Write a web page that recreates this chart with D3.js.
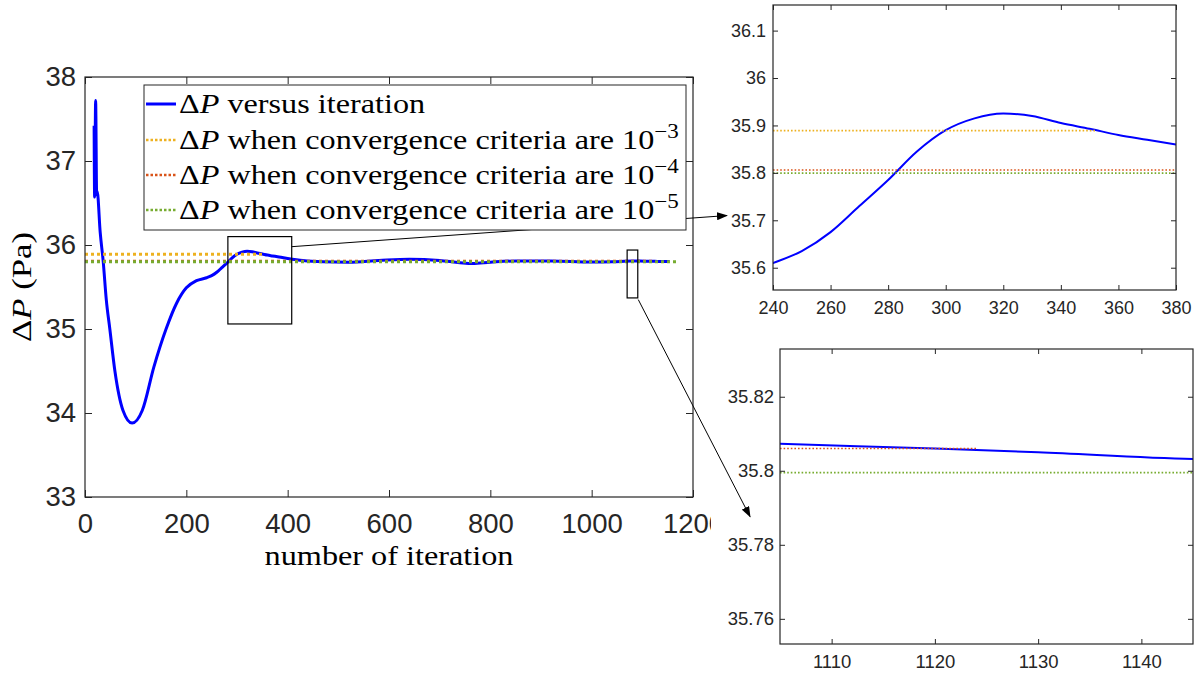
<!DOCTYPE html>
<html lang="en">
<head>
<meta charset="UTF-8">
<script src="https://cdn.jsdelivr.net/npm/d3@7/dist/d3.min.js"></script>
<style>
    body { margin: 0; background: #fff; }
    .tick text { font-family: "Liberation Sans", Arial, sans-serif; fill: #262626; }
    .tick line { stroke: #262626; }
</style>
</head>
<body>
<svg id="chart" width="1195" height="677"></svg>
<script>
// deltaP (Pa)
var iterations = [18, 19, 21, 23, 24, 30, 36, 42, 49, 59, 75, 93, 113, 136, 160, 181, 200, 220,
                  240, 250, 260, 270, 280, 290, 300, 310, 320, 330, 340, 350, 360, 370, 380,
                  400, 430, 470, 520, 580, 640, 700, 740, 765, 800, 850, 920, 1000, 1040, 1080,
                  1105, 1120, 1130, 1145, 1154];
var deltaP = [37.42, 36.57, 37.72, 36.6, 36.64, 36.15, 35.8, 35.35, 35.0, 34.5, 34.03, 33.88, 34.03, 34.55, 35.0, 35.31, 35.49, 35.575,
              35.61, 35.635, 35.675, 35.73, 35.785, 35.845, 35.89, 35.915, 35.925, 35.92, 35.905, 35.893, 35.88, 35.87, 35.86,
              35.84, 35.815, 35.80, 35.795, 35.815, 35.83, 35.815, 35.79, 35.78, 35.795, 35.81, 35.81, 35.797, 35.80, 35.81,
              35.8073, 35.806, 35.805, 35.8032, 35.803];

// converged values for criteria 1e-3, 1e-4, 1e-5 and where each dotted line stops
var critLevel = [35.889, 35.806, 35.7995];
var critStop = [352, 1124, 1170];
var critExp = ["\u22123", "\u22124", "\u22125"];
var critColor = ["#EDB120", "#D95319", "#77AC30"];

var mainXTicks = [0, 200, 400, 600, 800, 1000, 1200];
var mainYTicks = [33, 34, 35, 36, 37, 38];
var zoomAXTicks = [240, 260, 280, 300, 320, 340, 360, 380];
var zoomAYTicks = [35.6, 35.7, 35.8, 35.9, 36, 36.1];
var zoomBXTicks = [1110, 1120, 1130, 1140];
var zoomBYTicks = [35.76, 35.78, 35.8, 35.82];

// zoom boxes on the main axes: [x0, x1, y0, y1]
var boxA = [282, 408, 35.06, 36.1];
var boxB = [1070, 1091, 35.37, 35.94];

var serif = '"Liberation Serif", "DejaVu Serif", serif';

var svg = d3.select("#chart");
var fmt = d3.format("~g");
var data = d3.zip(iterations, deltaP);

var defs = svg.append("defs");
defs.append("marker")
    .attr("id", "head")
    .attr("markerUnits", "userSpaceOnUse")
    .attr("markerWidth", 11).attr("markerHeight", 8)
    .attr("refX", 10).attr("refY", 4)
    .attr("orient", "auto")
  .append("path")
    .attr("d", "M0,0 L11,4 L0,8 Z")
    .attr("fill", "#000");

function panel(id, box, xd, yd, xt, yt, o) {
    var x = d3.scaleLinear().domain(xd).range([box[0], box[1]]);
    var y = d3.scaleLinear().domain(yd).range([box[3], box[2]]);
    var g = svg.append("g").attr("class", id);

    defs.append("clipPath").attr("id", "clip-" + id)
      .append("rect")
        .attr("x", box[0]).attr("y", box[2])
        .attr("width", box[1] - box[0]).attr("height", box[3] - box[2]);

    var plot = g.append("g").attr("clip-path", "url(#clip-" + id + ")");
    var line = d3.line().curve(d3.curveMonotoneX)
        .x(function(d) { return x(d[0]); })
        .y(function(d) { return y(d[1]); });

    plot.append("path")
        .datum(data)
        .attr("d", line)
        .attr("fill", "none")
        .attr("stroke", "#0000FF")
        .attr("stroke-width", o.lw);

    critLevel.forEach(function(v, i) {
        plot.append("line")
            .attr("x1", x(xd[0])).attr("x2", x(critStop[i]))
            .attr("y1", y(v)).attr("y2", y(v))
            .attr("stroke", critColor[i])
            .attr("stroke-width", o.dw)
            .attr("stroke-dasharray", o.dash);
    });

    var axes = g.append("g");
    if (o.clipX) {
        defs.append("clipPath").attr("id", "clipx-" + id)
          .append("rect").attr("x", 0).attr("y", box[3] - 20).attr("width", o.clipX).attr("height", 80);
        axes = axes.append("g").attr("clip-path", "url(#clipx-" + id + ")");
    }
    axes.append("g")
        .attr("transform", "translate(0," + box[3] + ")")
        .call(d3.axisBottom(x).tickValues(xt).tickSize(-o.tick).tickPadding(o.padX).tickFormat(fmt));
    g.append("g")
        .attr("transform", "translate(0," + box[2] + ")")
        .call(d3.axisTop(x).tickValues(xt).tickSize(-o.tick).tickFormat(""));
    g.append("g")
        .attr("transform", "translate(" + box[0] + ",0)")
        .call(d3.axisLeft(y).tickValues(yt).tickSize(-o.tick).tickPadding(o.padY).tickFormat(fmt));
    g.append("g")
        .attr("transform", "translate(" + box[1] + ",0)")
        .call(d3.axisRight(y).tickValues(yt).tickSize(-o.tick).tickFormat(""));

    g.selectAll(".domain").remove();
    g.selectAll(".tick text").style("font-size", o.fs + "px");
    g.selectAll(".tick line").attr("stroke-width", 1);

    g.append("rect")
        .attr("x", box[0]).attr("y", box[2])
        .attr("width", box[1] - box[0]).attr("height", box[3] - box[2])
        .attr("fill", "none")
        .attr("stroke", "#262626")
        .attr("stroke-width", o.frame);

    return { x: x, y: y, g: g };
}

var main = panel("main", [85, 693, 77, 497], [0, 1200], [33, 38], mainXTicks, mainYTicks,
    { lw: 3, dw: 3, dash: "3,3", tick: 7, padX: 16, padY: 9, fs: 27.5, frame: 1.2, clipX: 711 });
var zoomA = panel("zoomA", [773, 1176, 5, 290], [240, 380], [35.553, 36.154], zoomAXTicks, zoomAYTicks,
    { lw: 2, dw: 1.6, dash: "1.6,2", tick: 5, padX: 11, padY: 7, fs: 18, frame: 1.2 });
var zoomB = panel("zoomB", [780, 1193, 349, 644], [1105, 1145], [35.7532, 35.8329], zoomBXTicks, zoomBYTicks,
    { lw: 2, dw: 1.6, dash: "1.6,2", tick: 5, padX: 11, padY: 6, fs: 18.5, frame: 1.2 });

// zoom boxes and arrows
[boxA, boxB].forEach(function(b) {
    svg.append("rect")
        .attr("x", main.x(b[0])).attr("y", main.y(b[3]))
        .attr("width", main.x(b[1]) - main.x(b[0]))
        .attr("height", main.y(b[2]) - main.y(b[3]))
        .attr("fill", "none").attr("stroke", "#000").attr("stroke-width", 1.2);
});
svg.append("line")
    .attr("x1", main.x(408)).attr("y1", main.y(35.98))
    .attr("x2", zoomA.x(224)).attr("y2", zoomA.y(35.71))
    .attr("stroke", "#000").attr("stroke-width", 1).attr("marker-end", "url(#head)");
svg.append("line")
    .attr("x1", main.x(1092)).attr("y1", main.y(35.35))
    .attr("x2", zoomB.x(1102.1)).attr("y2", zoomB.y(35.7876))
    .attr("stroke", "#000").attr("stroke-width", 1).attr("marker-end", "url(#head)");

// stretch a latex-like label horizontally so it covers the same span as the figure
function fit(t, width) {
    var w = t.node().getComputedTextLength();
    return width / w;
}
function texText(parent, size) {
    return parent.append("text")
        .style("font-family", serif)
        .style("font-size", size + "px")
        .attr("fill", "#000");
}

// axis labels
var xl = texText(svg, 28).attr("text-anchor", "middle").text("number of iteration");
xl.attr("transform", "translate(389,565) scale(" + fit(xl, 249) + ",1)");

var yl = texText(svg, 28).attr("text-anchor", "middle");
yl.append("tspan").text("\u0394");
yl.append("tspan").style("font-style", "italic").text("P");
yl.append("tspan").text(" (Pa)");
yl.attr("transform", "translate(31,287) rotate(-90) scale(" + fit(yl, 110) + ",1)");

// legend
var legend = svg.append("g");
legend.append("rect")
    .attr("x", 144).attr("y", 85).attr("width", 542).attr("height", 145)
    .attr("fill", "#fff").attr("stroke", "#262626").attr("stroke-width", 1);

var rows = [104, 140, 175, 210];
var entries = [];
rows.forEach(function(ry, i) {
    var s = legend.append("line")
        .attr("x1", 146).attr("x2", 176).attr("y1", ry).attr("y2", ry);
    if (i === 0) {
        s.attr("stroke", "#0000FF").attr("stroke-width", 3);
    } else {
        s.attr("stroke", critColor[i - 1]).attr("stroke-width", 2.5).attr("stroke-dasharray", "2.5,2");
    }
    var t = texText(legend, 28);
    t.append("tspan").text("\u0394");
    t.append("tspan").style("font-style", "italic").text("P");
    if (i === 0) {
        t.append("tspan").text(" versus iteration");
    } else {
        t.append("tspan").text(" when convergence criteria are 10");
        t.append("tspan").attr("dy", -11).style("font-size", "20px").text(critExp[i - 1]);
    }
    entries.push({ t: t, y: ry + 9 });
});
var k = fit(entries[1].t, 500);
entries.forEach(function(e) {
    e.t.attr("transform", "translate(179," + e.y + ") scale(" + k + ",1)");
});
</script>
</body>
</html>
